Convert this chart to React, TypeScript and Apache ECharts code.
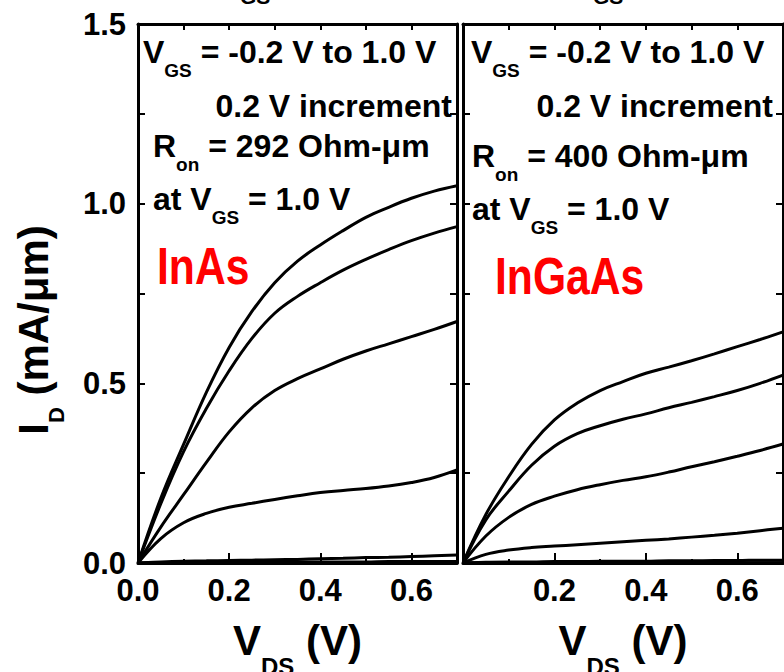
import React, { useEffect, useRef } from "react";
import * as echarts from "echarts";

const FONT = 'Arial, "Liberation Sans", sans-serif';

// V_DS sample points (V)
const vds = [0, 0.05, 0.1, 0.15, 0.2, 0.25, 0.3, 0.35, 0.4, 0.45, 0.5, 0.55, 0.6, 0.65, 0.7];

// InAs I_D (mA/um) for V_GS = 1.0 .. -0.2 V
const inas_10 = [0, 0.18, 0.33, 0.475, 0.6, 0.7, 0.78, 0.84, 0.885, 0.925, 0.962, 0.99, 1.015, 1.035, 1.05];
const inas_08 = [0, 0.165, 0.31, 0.43, 0.535, 0.625, 0.695, 0.742, 0.78, 0.815, 0.845, 0.872, 0.897, 0.918, 0.936];
const inas_06 = [0, 0.1, 0.19, 0.28, 0.365, 0.432, 0.48, 0.513, 0.54, 0.567, 0.59, 0.61, 0.63, 0.65, 0.672];
const inas_04 = [0, 0.068, 0.112, 0.138, 0.155, 0.166, 0.177, 0.187, 0.196, 0.202, 0.207, 0.214, 0.224, 0.238, 0.259];
const inas_02 = [0, 0.003, 0.005, 0.006, 0.007, 0.008, 0.009, 0.01, 0.012, 0.013, 0.015, 0.016, 0.018, 0.02, 0.022];
const inas_00 = [0, 0.001, 0.001, 0.002, 0.002, 0.002, 0.002, 0.003, 0.003, 0.003, 0.003, 0.004, 0.004, 0.004, 0.004];
const inas_m02 = [0, 0, 0, 0, 0.001, 0.001, 0.001, 0.001, 0.001, 0.001, 0.001, 0.001, 0.001, 0.001, 0.001];

// InGaAs I_D (mA/um)
const ingaas_10 = [0, 0.135, 0.24, 0.33, 0.398, 0.445, 0.48, 0.505, 0.528, 0.545, 0.563, 0.582, 0.602, 0.622, 0.643];
const ingaas_08 = [0, 0.12, 0.2, 0.272, 0.325, 0.36, 0.382, 0.4, 0.415, 0.432, 0.447, 0.463, 0.48, 0.5, 0.523];
const ingaas_06 = [0, 0.075, 0.127, 0.163, 0.186, 0.204, 0.218, 0.23, 0.24, 0.253, 0.268, 0.282, 0.297, 0.313, 0.331];
const ingaas_04 = [0, 0.024, 0.036, 0.043, 0.047, 0.051, 0.055, 0.059, 0.063, 0.067, 0.072, 0.077, 0.083, 0.09, 0.097];
const ingaas_02 = [0, 0.002, 0.003, 0.003, 0.004, 0.004, 0.005, 0.005, 0.005, 0.006, 0.006, 0.007, 0.007, 0.008, 0.008];
const ingaas_00 = [0, 0, 0.001, 0.001, 0.001, 0.001, 0.001, 0.001, 0.001, 0.001, 0.001, 0.001, 0.001, 0.001, 0.001];
const ingaas_m02 = [0, 0, 0, 0, 0, 0, 0, 0, 0, 0, 0, 0, 0, 0, 0];

const inasCurves = [inas_10, inas_08, inas_06, inas_04, inas_02, inas_00, inas_m02];
const ingaasCurves = [ingaas_10, ingaas_08, ingaas_06, ingaas_04, ingaas_02, ingaas_00, ingaas_m02];
const vgsNames = ["1.0", "0.8", "0.6", "0.4", "0.2", "0.0", "-0.2"];

const xTickLabels = ["0.0", "0.2", "0.4", "0.6"];
const yTickLabels = ["0.0", "0.5", "1.0", "1.5"];

const panels = [
  { name: "InAs", ron: "292", curves: inasCurves },
  { name: "InGaAs", ron: "400", curves: ingaasCurves },
];

const main = { fontSize: 32, fontWeight: "bold", fontFamily: FONT, verticalAlign: "middle", color: "#000" };
const sub = { fontSize: 19, fontWeight: "bold", fontFamily: FONT, verticalAlign: "middle", padding: [36, 0, 0, 0], color: "#000" };

function annot(x: number, y: number, text: string, align = "left") {
  return {
    type: "text",
    x,
    y,
    z: 10,
    style: {
      text,
      align,
      verticalAlign: "middle",
      rich: { m: main, s: sub },
      fill: "#000",
    },
  };
}

export default function App() {
  const ref = useRef<HTMLDivElement>(null);
  useEffect(() => {
    const chart = echarts.init(ref.current!, null, { renderer: "svg" });
    const grids = [
      { left: 138, top: 24, width: 319, height: 539, containLabel: false, outerBoundsMode: "none" },
      { left: 463, top: 24, width: 320, height: 539, containLabel: false, outerBoundsMode: "none" },
    ];
    const lineStyle = { color: "#000", width: 3 };
    const xAxis: any[] = [];
    const yAxis: any[] = [];
    const series: any[] = [];
    panels.forEach((p, g) => {
      xAxis.push({
        type: "value",
        gridIndex: g,
        position: "bottom",
        min: 0,
        max: 0.7,
        interval: 0.2,
        axisLine: { show: true, onZero: false, lineStyle },
        axisTick: { show: true, inside: true, length: 10, lineStyle: { color: "#000", width: 2 } },
        splitLine: { show: false },
        axisLabel: {
          margin: 12,
          fontSize: 31,
          fontWeight: "bold",
          fontFamily: FONT,
          color: "#000",
          formatter: (v: number) => {
            const s = v.toFixed(1);
            if (!xTickLabels.includes(s)) return "";
            if (g === 1 && s === "0.0") return "";
            return s;
          },
        },
        name: "{m|V}{s|DS}{m| (V)}",
        nameLocation: "middle",
        nameGap: 39,
        nameTextStyle: {
          rich: {
            m: { fontSize: 42, fontWeight: "bold", fontFamily: FONT, color: "#000", verticalAlign: "middle" },
            s: { fontSize: 24, fontWeight: "bold", fontFamily: FONT, color: "#000", verticalAlign: "middle", padding: [52, 0, 0, 0] },
          },
        },
      });
      xAxis.push({
        type: "value",
        gridIndex: g,
        position: "bottom",
        min: 0,
        max: 0.7,
        interval: 0.1,
        axisLine: { show: false, onZero: false },
        axisTick: { show: true, inside: true, length: 4, lineStyle: { color: "#000", width: 2 } },
        axisLabel: { show: false },
        splitLine: { show: false },
      });
      xAxis.push({
        type: "value",
        gridIndex: g,
        position: "top",
        min: 0,
        max: 0.7,
        interval: 0.1,
        axisLine: { show: true, onZero: false, lineStyle },
        axisTick: { show: true, inside: true, length: 6, lineStyle: { color: "#000", width: 2 } },
        axisLabel: { show: false },
        splitLine: { show: false },
      });
      yAxis.push({
        type: "value",
        gridIndex: g,
        position: "left",
        min: 0,
        max: 1.5,
        interval: 0.25,
        axisLine: { show: true, onZero: false, lineStyle },
        axisTick: { show: true, inside: true, length: 7, lineStyle: { color: "#000", width: 2 } },
        splitLine: { show: false },
        axisLabel: {
          show: g === 0,
          margin: 12,
          fontSize: 31,
          fontWeight: "bold",
          fontFamily: FONT,
          color: "#000",
          formatter: (v: number) => {
            const s = v.toFixed(1);
            return yTickLabels.includes(s) && Math.abs(v * 2 - Math.round(v * 2)) < 1e-6 ? s : "";
          },
        },
      });
      yAxis.push({
        type: "value",
        gridIndex: g,
        position: "right",
        min: 0,
        max: 1.5,
        interval: 0.25,
        axisLine: { show: true, onZero: false, lineStyle },
        axisTick: { show: true, inside: true, length: 7, lineStyle: { color: "#000", width: 2 } },
        axisLabel: { show: false },
        splitLine: { show: false },
      });
      p.curves.forEach((c, i) => {
        series.push({
          type: "line",
          name: `${p.name} VGS=${vgsNames[i]} V`,
          xAxisIndex: 3 * g,
          yAxisIndex: 2 * g,
          data: vds.map((x, k) => [x, c[k]]),
          showSymbol: false,
          smooth: 0.4,
          lineStyle: { color: "#000", width: 3 },
          clip: true,
        });
      });
    });

    const graphic: any[] = [
      // cut-off title subscripts at the top
      { type: "text", x: 240, y: -4, style: { text: "GS", fontSize: 21, fontWeight: "bold", fontFamily: FONT, fill: "#000", verticalAlign: "middle" } },
      { type: "text", x: 593, y: -4, style: { text: "GS", fontSize: 21, fontWeight: "bold", fontFamily: FONT, fill: "#000", verticalAlign: "middle" } },
      // y axis label
      {
        type: "text",
        x: 33,
        y: 330,
        rotation: Math.PI / 2,
        style: {
          text: "{m|I}{s|D}{m| (mA/μm)}",
          align: "center",
          verticalAlign: "middle",
          rich: {
            m: { fontSize: 42, fontWeight: "bold", fontFamily: FONT, color: "#000", verticalAlign: "middle" },
            s: { fontSize: 22, fontWeight: "bold", fontFamily: FONT, color: "#000", verticalAlign: "middle", padding: [46, 0, 0, 0] },
          },
        },
      },
      // InAs annotations
      annot(143, 52, "{m|V}{s|GS}{m| = -0.2 V to 1.0 V}"),
      annot(452, 106, "{m|0.2 V increment}", "right"),
      annot(153, 146, `{m|R}{s|on}{m| = ${panels[0].ron} Ohm-μm}`),
      annot(153, 199, "{m|at V}{s|GS}{m| = 1.0 V}"),
      {
        type: "text", x: 157, y: 266, scaleX: 0.82, z: 10,
        style: { text: panels[0].name, fontSize: 52, fontWeight: "bold", fontFamily: FONT, fill: "#ff0000", verticalAlign: "middle" },
      },
      // InGaAs annotations
      annot(471, 52, "{m|V}{s|GS}{m| = -0.2 V to 1.0 V}"),
      annot(773, 106, "{m|0.2 V increment}", "right"),
      annot(472, 156, `{m|R}{s|on}{m| = ${panels[1].ron} Ohm-μm}`),
      annot(472, 209, "{m|at V}{s|GS}{m| = 1.0 V}"),
      {
        type: "text", x: 495, y: 276, scaleX: 0.82, z: 10,
        style: { text: panels[1].name, fontSize: 52, fontWeight: "bold", fontFamily: FONT, fill: "#ff0000", verticalAlign: "middle" },
      },
    ];

    chart.setOption({
      animation: false,
      backgroundColor: "#fff",
      grid: grids,
      xAxis,
      yAxis,
      series,
      graphic,
    });
    return () => chart.dispose();
  }, []);
  return <div ref={ref} style={{ position: "absolute", left: 0, top: 0, width: 784, height: 672 }} />;
}
